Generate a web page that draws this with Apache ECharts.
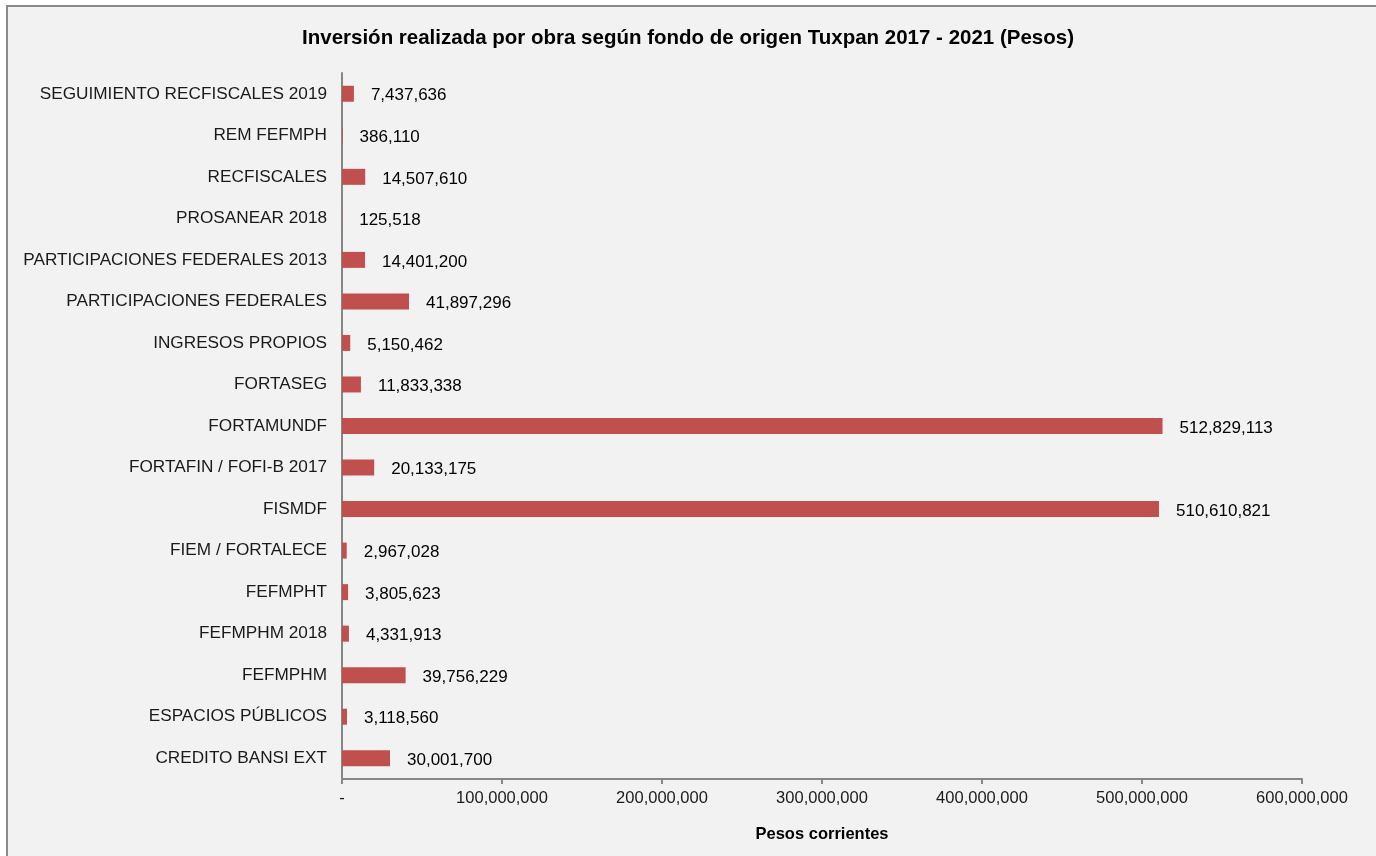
<!DOCTYPE html>
<html>
<head>
<meta charset="utf-8">
<script src="https://cdn.jsdelivr.net/npm/echarts@6/dist/echarts.min.js"></script>
<style>
  html, body { margin: 0; padding: 0; background: #fff; }
  #chart { width: 1376px; height: 856px; }
</style>
</head>
<body>
<div id="chart"></div>
<script>
// fondos, de arriba hacia abajo
var fondos = [
    'SEGUIMIENTO RECFISCALES 2019',
    'REM FEFMPH',
    'RECFISCALES',
    'PROSANEAR 2018',
    'PARTICIPACIONES FEDERALES 2013',
    'PARTICIPACIONES FEDERALES',
    'INGRESOS PROPIOS',
    'FORTASEG',
    'FORTAMUNDF',
    'FORTAFIN / FOFI-B 2017',
    'FISMDF',
    'FIEM / FORTALECE',
    'FEFMPHT',
    'FEFMPHM 2018',
    'FEFMPHM',
    'ESPACIOS PÚBLICOS',
    'CREDITO BANSI EXT'
];
var inversion = [
    7437636, 386110, 14507610, 125518, 14401200, 41897296, 5150462, 11833338,
    512829113, 20133175, 510610821, 2967028, 3805623, 4331913, 39756229,
    3118560, 30001700
];
var ticksX = [0, 100000000, 200000000, 300000000, 400000000, 500000000, 600000000];

var font = 'Liberation Sans, Arial, sans-serif';
var gris = '#868686';

function fmt(v) {
    if (v === 0) return '-';
    return v.toLocaleString('en-US');
}

var myChart = echarts.init(document.getElementById('chart'));
var option = {
    backgroundColor: '#ffffff',
    animation: false,
    graphic: [{
        type: 'rect',
        z: -10,
        shape: { x: 7, y: 6, width: 1380, height: 860 },
        style: { fill: '#f2f2f2', stroke: '#8a8a8a', lineWidth: 2 }
    }],
    title: {
        text: 'Inversión realizada por obra según fondo de origen Tuxpan 2017 - 2021 (Pesos)',
        left: 'center',
        top: 23,
        textStyle: {
            fontFamily: font,
            fontSize: 20.5,
            fontWeight: 'bold',
            color: '#000'
        }
    },
    grid: {
        left: 342,
        right: 74,
        top: 73,
        bottom: 77
    },
    xAxis: {
        type: 'value',
        min: ticksX[0],
        max: ticksX[ticksX.length - 1],
        interval: 100000000,
        name: 'Pesos corrientes',
        nameLocation: 'middle',
        nameGap: 47,
        nameTextStyle: {
            fontFamily: font,
            fontSize: 16.5,
            fontWeight: 'bold',
            color: '#000'
        },
        axisLine: { show: true, lineStyle: { color: gris, width: 2 } },
        axisTick: { show: true, length: 5, lineStyle: { color: gris, width: 2 } },
        axisLabel: {
            margin: 11,
            fontFamily: font,
            fontSize: 16.5,
            color: '#1a1a1a',
            formatter: fmt
        },
        splitLine: { show: false }
    },
    yAxis: {
        type: 'category',
        inverse: true,
        data: fondos,
        axisLine: { show: true, lineStyle: { color: gris, width: 2 } },
        axisTick: { show: false },
        axisLabel: {
            margin: 15,
            fontFamily: font,
            fontSize: 17.2,
            color: '#1a1a1a'
        }
    },
    series: [{
        type: 'bar',
        data: inversion,
        barWidth: 16,
        itemStyle: {
            color: '#c0504d'
        },
        label: {
            show: true,
            position: 'right',
            distance: 17,
            offset: [0, 2],
            fontFamily: font,
            fontSize: 17,
            color: '#000',
            formatter: function (p) { return fmt(p.value); }
        }
    }]
};
myChart.setOption(option);
</script>
</body>
</html>
